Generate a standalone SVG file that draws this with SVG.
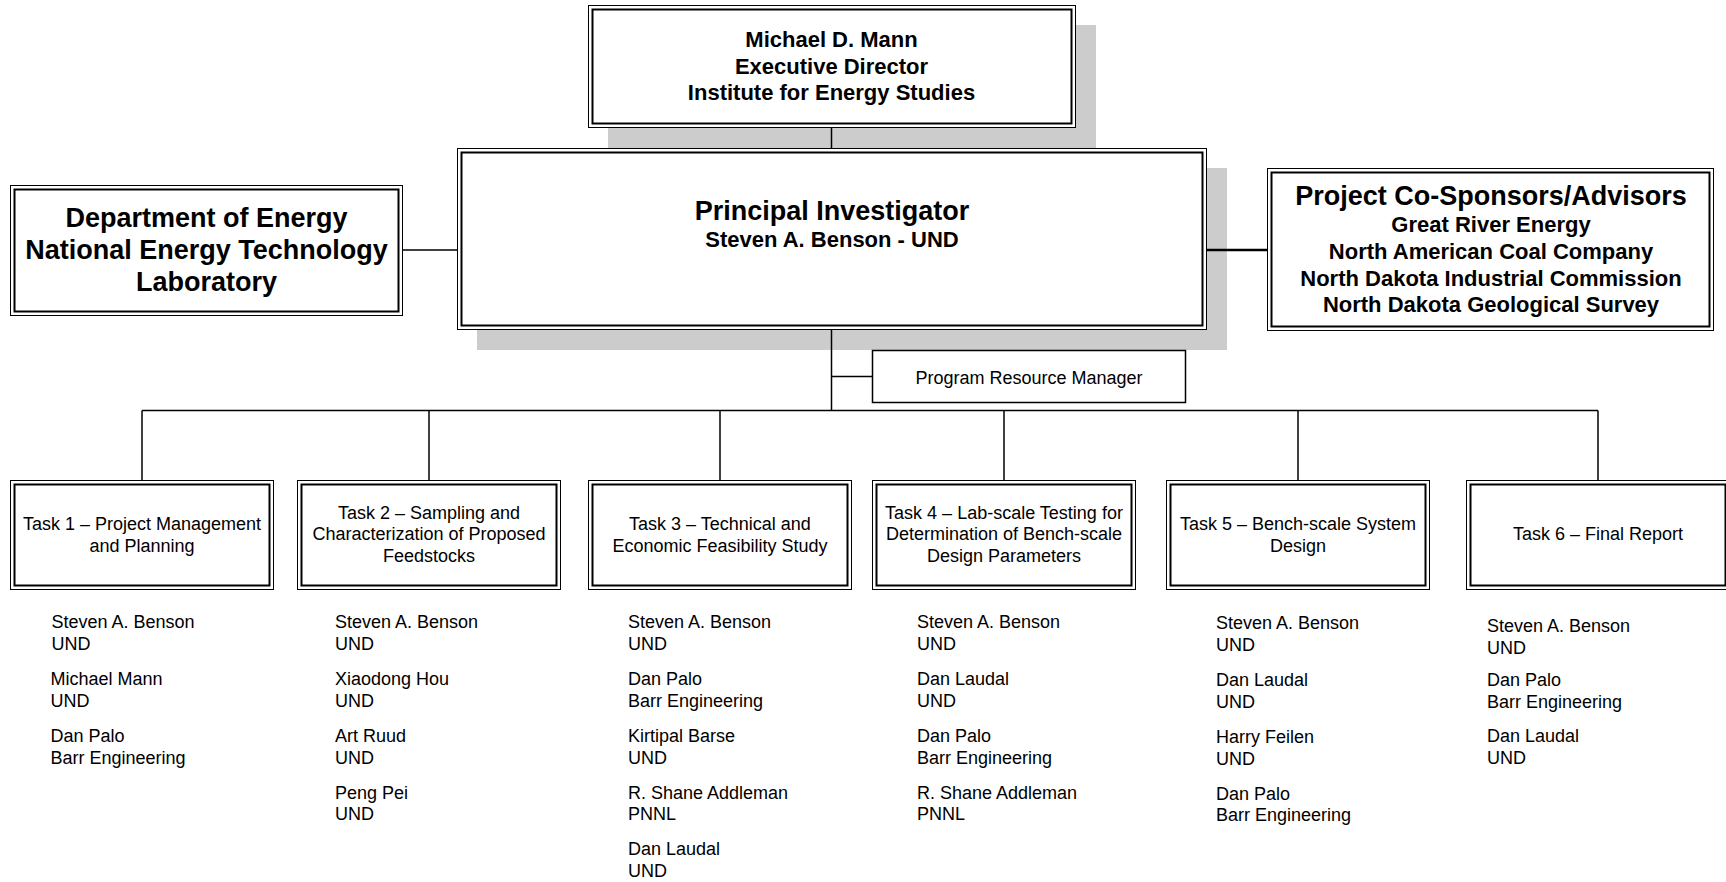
<svg xmlns="http://www.w3.org/2000/svg" width="1726" height="882" viewBox="0 0 1726 882">
<style>
.sh{fill:#cccccc}
.o{fill:#fff;stroke:#000;stroke-width:1}
.i{fill:none;stroke:#000;stroke-width:2}
.s{fill:#fff;stroke:#000;stroke-width:1.5}
.c{stroke:#000;stroke-width:1.5;fill:none}
.hb{font-family:"Liberation Sans",Arial,sans-serif;font-weight:bold;text-anchor:middle;fill:#000}
.h27{font-size:27px}
.h22{font-size:22px}
.t{font-family:"Liberation Sans",Arial,sans-serif;font-size:18px;fill:#000}
.tm{text-anchor:middle}
</style>
<rect x="0" y="0" width="1726" height="882" fill="#fff"/>

<g id="node-director">
  <rect class="sh" x="608" y="25" width="488" height="123"/>
  <rect class="o" x="588.5" y="5.5" width="487" height="122"/>
  <rect class="i" x="592.5" y="9.5" width="479" height="114"/>
  <text class="hb h22" x="831.5" y="47">Michael D. Mann</text>
  <text class="hb h22" x="831.5" y="73.5">Executive Director</text>
  <text class="hb h22" x="831.5" y="100">Institute for Energy Studies</text>
</g>

<g id="node-pi">
  <rect class="sh" x="477" y="168" width="750" height="182"/>
  <rect class="o" x="457.5" y="148.5" width="749" height="181"/>
  <rect class="i" x="461.5" y="152.5" width="741" height="173"/>
  <text class="hb h27" x="832" y="220">Principal Investigator</text>
  <text class="hb h22" x="832" y="247">Steven A. Benson - UND</text>
</g>

<g id="node-doe">
  <rect class="o" x="10.5" y="185.5" width="392" height="130"/>
  <rect class="i" x="14.5" y="189.5" width="384" height="122"/>
  <text class="hb h27" x="206.5" y="227">Department of Energy</text>
  <text class="hb h27" x="206.5" y="259">National Energy Technology</text>
  <text class="hb h27" x="206.5" y="291">Laboratory</text>
</g>

<g id="node-cosponsors">
  <rect class="o" x="1267.5" y="168.5" width="446" height="162"/>
  <rect class="i" x="1271.5" y="172.5" width="438" height="154"/>
  <text class="hb h27" x="1491" y="205">Project Co-Sponsors/Advisors</text>
  <text class="hb h22" x="1491" y="232">Great River Energy</text>
  <text class="hb h22" x="1491" y="258.8">North American Coal Company</text>
  <text class="hb h22" x="1491" y="285.6">North Dakota Industrial Commission</text>
  <text class="hb h22" x="1491" y="312.4">North Dakota Geological Survey</text>
</g>

<g id="node-prm">
  <rect class="s" x="872.5" y="350.5" width="313" height="52"/>
  <text class="t tm" x="1029" y="383.5">Program Resource Manager</text>
</g>

<g id="connectors">
  <path class="c" d="M831.5 128 V148"/>
  <path class="c" d="M403 250 H457"/>
  <path class="c" d="M1207 250 H1267" style="stroke-width:2.5"/>
  <path class="c" d="M831.5 330 V410.5"/>
  <path class="c" d="M831.5 376.5 H872"/>
  <path class="c" d="M142 410.5 H1598"/>
  <path class="c" d="M142 410.5 V480"/>
  <path class="c" d="M429 410.5 V480"/>
  <path class="c" d="M720 410.5 V480"/>
  <path class="c" d="M1004 410.5 V480"/>
  <path class="c" d="M1298 410.5 V480"/>
  <path class="c" d="M1598 410.5 V480"/>
</g>

<g id="node-task1">
  <rect class="o" x="10.5" y="480.5" width="263" height="109"/>
  <rect class="i" x="14.5" y="484.5" width="255" height="101"/>
  <text class="t tm" x="142" y="530">Task 1 – Project Management</text>
  <text class="t tm" x="142" y="551.5">and Planning</text>
</g>
<g id="node-task2">
  <rect class="o" x="297.5" y="480.5" width="263" height="109"/>
  <rect class="i" x="301.5" y="484.5" width="255" height="101"/>
  <text class="t tm" x="429" y="518.5">Task 2 – Sampling and</text>
  <text class="t tm" x="429" y="540">Characterization of Proposed</text>
  <text class="t tm" x="429" y="561.5">Feedstocks</text>
</g>
<g id="node-task3">
  <rect class="o" x="588.5" y="480.5" width="263" height="109"/>
  <rect class="i" x="592.5" y="484.5" width="255" height="101"/>
  <text class="t tm" x="720" y="530">Task 3 – Technical and</text>
  <text class="t tm" x="720" y="551.5">Economic Feasibility Study</text>
</g>
<g id="node-task4">
  <rect class="o" x="872.5" y="480.5" width="263" height="109"/>
  <rect class="i" x="876.5" y="484.5" width="255" height="101"/>
  <text class="t tm" x="1004" y="518.5">Task 4 – Lab-scale Testing for</text>
  <text class="t tm" x="1004" y="540">Determination of Bench-scale</text>
  <text class="t tm" x="1004" y="561.5">Design Parameters</text>
</g>
<g id="node-task5">
  <rect class="o" x="1166.5" y="480.5" width="263" height="109"/>
  <rect class="i" x="1170.5" y="484.5" width="255" height="101"/>
  <text class="t tm" x="1298" y="530">Task 5 – Bench-scale System</text>
  <text class="t tm" x="1298" y="551.5">Design</text>
</g>
<g id="node-task6">
  <rect class="o" x="1466.5" y="480.5" width="263" height="109"/>
  <rect class="i" x="1470.5" y="484.5" width="255" height="101"/>
  <text class="t tm" x="1598" y="540">Task 6 – Final Report</text>
</g>

<g id="people-task1" class="t">
  <text x="51.5" y="628">Steven A. Benson<tspan x="51.5" dy="21.5">UND</tspan></text>
  <text x="50.5" y="685">Michael Mann<tspan x="50.5" dy="21.5">UND</tspan></text>
  <text x="50.5" y="742">Dan Palo<tspan x="50.5" dy="21.5">Barr Engineering</tspan></text>
</g>
<g id="people-task2" class="t">
  <text x="335" y="628">Steven A. Benson<tspan x="335" dy="21.5">UND</tspan></text>
  <text x="335" y="685">Xiaodong Hou<tspan x="335" dy="21.5">UND</tspan></text>
  <text x="335" y="742">Art Ruud<tspan x="335" dy="21.5">UND</tspan></text>
  <text x="335" y="798.5">Peng Pei<tspan x="335" dy="21.5">UND</tspan></text>
</g>
<g id="people-task3" class="t">
  <text x="628" y="628">Steven A. Benson<tspan x="628" dy="21.5">UND</tspan></text>
  <text x="628" y="685">Dan Palo<tspan x="628" dy="21.5">Barr Engineering</tspan></text>
  <text x="628" y="742">Kirtipal Barse<tspan x="628" dy="21.5">UND</tspan></text>
  <text x="628" y="798.5">R. Shane Addleman<tspan x="628" dy="21.5">PNNL</tspan></text>
  <text x="628" y="855">Dan Laudal<tspan x="628" dy="21.5">UND</tspan></text>
</g>
<g id="people-task4" class="t">
  <text x="917" y="628">Steven A. Benson<tspan x="917" dy="21.5">UND</tspan></text>
  <text x="917" y="685">Dan Laudal<tspan x="917" dy="21.5">UND</tspan></text>
  <text x="917" y="742">Dan Palo<tspan x="917" dy="21.5">Barr Engineering</tspan></text>
  <text x="917" y="798.5">R. Shane Addleman<tspan x="917" dy="21.5">PNNL</tspan></text>
</g>
<g id="people-task5" class="t">
  <text x="1216" y="629">Steven A. Benson<tspan x="1216" dy="21.5">UND</tspan></text>
  <text x="1216" y="686">Dan Laudal<tspan x="1216" dy="21.5">UND</tspan></text>
  <text x="1216" y="743">Harry Feilen<tspan x="1216" dy="21.5">UND</tspan></text>
  <text x="1216" y="799.5">Dan Palo<tspan x="1216" dy="21.5">Barr Engineering</tspan></text>
</g>
<g id="people-task6" class="t">
  <text x="1487" y="632">Steven A. Benson<tspan x="1487" dy="21.5">UND</tspan></text>
  <text x="1487" y="686">Dan Palo<tspan x="1487" dy="21.5">Barr Engineering</tspan></text>
  <text x="1487" y="742">Dan Laudal<tspan x="1487" dy="21.5">UND</tspan></text>
</g>
</svg>
